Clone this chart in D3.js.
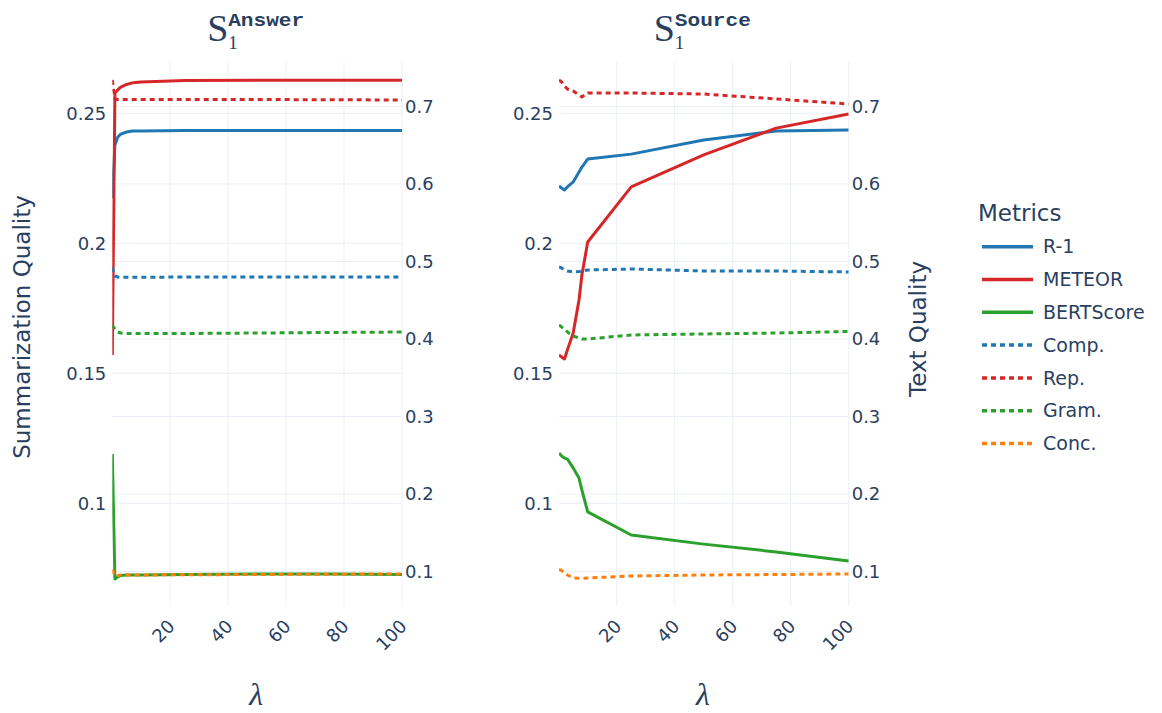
<!DOCTYPE html>
<html><head><meta charset="utf-8">
<script src="https://cdn.jsdelivr.net/npm/d3@7/dist/d3.min.js"></script>
<style>body{margin:0;background:#fff}svg{display:block}</style>
</head><body><svg id="c" width="1162" height="713"></svg>
<script>
// ---------------- data ----------------
const lambdas = [0.1, 1, 2, 3, 5, 7, 8, 10, 25, 50, 75, 100];
const panelKeys = ["Answer", "Source"];
const seriesNames = ["R-1", "METEOR", "BERTScore", "Comp.", "Rep.", "Gram.", "Conc."];
const seriesAxis = ["left", "left", "left", "right", "right", "right", "right"];
const seriesColors = ["#1f77b4", "#d62728", "#2ca02c", "#1f77b4", "#d62728", "#2ca02c", "#ff7f0e"];
const seriesDashed = [false, false, false, true, true, true, true];

// S1^Answer panel
const answerR1      = [0.2174, 0.2378, 0.2409, 0.2420, 0.2428, 0.2432, 0.2432, 0.2432, 0.2434, 0.2434, 0.2434, 0.2434];
const answerMETEOR  = [0.1570, 0.2578, 0.2590, 0.2601, 0.2611, 0.2617, 0.2618, 0.2620, 0.2626, 0.2627, 0.2627, 0.2627];
const answerBERT    = [0.1190, 0.0709, 0.0717, 0.0722, 0.0724, 0.0724, 0.0724, 0.0724, 0.0726, 0.0728, 0.0728, 0.0726];
const answerComp    = [0.4929, 0.4813, 0.4800, 0.4796, 0.4796, 0.4796, 0.4796, 0.4796, 0.4800, 0.4800, 0.4800, 0.4800];
const answerRep     = [0.7342, 0.7097, 0.7090, 0.7090, 0.7090, 0.7090, 0.7090, 0.7090, 0.7090, 0.7090, 0.7087, 0.7084];
const answerGram    = [0.4181, 0.4129, 0.4090, 0.4077, 0.4071, 0.4071, 0.4071, 0.4071, 0.4071, 0.4077, 0.4084, 0.4090];
const answerConc    = [0.1028, 0.0942, 0.0948, 0.0955, 0.0955, 0.0955, 0.0955, 0.0955, 0.0958, 0.0961, 0.0965, 0.0968];

// S1^Source panel
const sourceR1      = [0.2220, 0.2213, 0.2205, 0.2217, 0.2236, 0.2274, 0.2293, 0.2324, 0.2343, 0.2397, 0.2432, 0.2436];
const sourceMETEOR  = [0.1570, 0.1563, 0.1555, 0.1590, 0.1655, 0.1782, 0.1878, 0.2005, 0.2217, 0.2340, 0.2443, 0.2497];
const sourceBERT    = [0.1193, 0.1182, 0.1174, 0.1170, 0.1136, 0.1097, 0.1051, 0.0967, 0.0878, 0.0843, 0.0813, 0.0778];
const sourceComp    = [0.4929, 0.4916, 0.4890, 0.4877, 0.4865, 0.4871, 0.4877, 0.4890, 0.4903, 0.4877, 0.4877, 0.4865];
const sourceRep     = [0.7342, 0.7316, 0.7265, 0.7226, 0.7200, 0.7148, 0.7123, 0.7174, 0.7174, 0.7161, 0.7097, 0.7032];
const sourceGram    = [0.4181, 0.4155, 0.4129, 0.4090, 0.4039, 0.4013, 0.4000, 0.4000, 0.4052, 0.4065, 0.4077, 0.4097];
const sourceConc    = [0.1028, 0.1013, 0.0981, 0.0955, 0.0916, 0.0912, 0.0912, 0.0916, 0.0942, 0.0955, 0.0961, 0.0968];

const xTicks = [20, 40, 60, 80, 100];
const leftTicks = [0.1, 0.15, 0.2, 0.25];
const rightTicks = [0.1, 0.2, 0.3, 0.4, 0.5, 0.6, 0.7];
const leftAxisTitle = "Summarization Quality";
const rightAxisTitle = "Text Quality";
const xAxisTitle = "λ";
const legendTitle = "Metrics";

const panelSeries = [
  [answerR1, answerMETEOR, answerBERT, answerComp, answerRep, answerGram, answerConc],
  [sourceR1, sourceMETEOR, sourceBERT, sourceComp, sourceRep, sourceGram, sourceConc]
];

// ---------------- layout ----------------
const TEXT = "#2a3f5f", GRID = "#ebf0f8";
const FONT = "'DejaVu Sans', sans-serif";
const plotTop = 62, plotBottom = 606;
const panels = [{x0: 112.3, x1: 402}, {x0: 559, x1: 848.7}];

const svg = d3.select("#c");
svg.append("rect").attr("width", 1162).attr("height", 713).attr("fill", "#fff");

const yL = d3.scaleLinear().domain([0.0605, 0.26973]).range([plotBottom, plotTop]);
const yR = d3.scaleLinear().domain([0.05548, 0.7574]).range([plotBottom, plotTop]);
const fmt = v => String(+v.toFixed(3));

panels.forEach((p, pi) => {
  const x = d3.scaleLinear().domain([0.1, 100]).range([p.x0, p.x1]);
  const g = svg.append("g");

  // grid
  const grid = g.append("g").attr("stroke", GRID).attr("stroke-width", 1);
  xTicks.forEach(t => grid.append("line").attr("x1", x(t)).attr("x2", x(t)).attr("y1", plotTop).attr("y2", plotBottom));
  leftTicks.forEach(t => grid.append("line").attr("x1", p.x0).attr("x2", p.x1).attr("y1", yL(t)).attr("y2", yL(t)));
  rightTicks.forEach(t => grid.append("line").attr("x1", p.x0).attr("x2", p.x1).attr("y1", yR(t)).attr("y2", yR(t)));

  // axes via d3 axis generators, styled like plotly
  const axL = g.append("g").attr("transform", `translate(${p.x0},0)`)
    .call(d3.axisLeft(yL).tickValues(leftTicks).tickFormat(fmt).tickSize(0).tickPadding(6));
  const axR = g.append("g").attr("transform", `translate(${p.x1},0)`)
    .call(d3.axisRight(yR).tickValues(rightTicks).tickFormat(fmt).tickSize(0).tickPadding(3));
  const axX = g.append("g").attr("transform", `translate(0,${plotBottom})`)
    .call(d3.axisBottom(x).tickValues(xTicks).tickFormat(d3.format("d")).tickSize(0));
  [axL, axR, axX].forEach(a => {
    a.select(".domain").remove();
    a.selectAll("text").attr("fill", TEXT).attr("font-family", FONT).attr("font-size", 18);
  });
  axX.selectAll(".tick text")
    .attr("text-anchor", "end").attr("dy", "0.35em").attr("y", 0).attr("x", 0)
    .attr("transform", "translate(1,17) rotate(-45)");

  // clip
  const cid = "clip" + pi;
  svg.append("clipPath").attr("id", cid).append("rect")
    .attr("x", p.x0).attr("y", plotTop).attr("width", p.x1 - p.x0).attr("height", plotBottom - plotTop);
  const lines = g.append("g").attr("clip-path", `url(#${cid})`);
  seriesNames.forEach((n, si) => {
    const ys = seriesAxis[si] === "left" ? yL : yR;
    const line = d3.line().x((d, i) => x(lambdas[i])).y(d => ys(d));
    lines.append("path").datum(panelSeries[pi][si])
      .attr("d", line).attr("fill", "none")
      .attr("stroke", seriesColors[si]).attr("stroke-width", 3)
      .attr("stroke-linejoin", "round")
      .attr("stroke-dasharray", seriesDashed[si] ? "5,4" : null);
  });

  // title S_1^{key}
  const cx = (p.x0 + p.x1) / 2 - 1;
  const tg = svg.append("g").attr("fill", TEXT);
  tg.append("text").attr("x", cx - 49).attr("y", 41).attr("font-family", "'Liberation Serif', serif")
    .attr("font-size", 38).text("S");
  tg.append("text").attr("x", cx - 28).attr("y", 26).attr("font-family", "'Liberation Mono', monospace")
    .attr("font-weight", "bold").attr("font-size", 19)
    .attr("textLength", 76).attr("lengthAdjust", "spacingAndGlyphs").text(panelKeys[pi]);
  tg.append("text").attr("x", cx - 28).attr("y", 49).attr("font-family", "'Liberation Serif', serif")
    .attr("font-size", 19).text("1");

  // x axis title
  svg.append("text").attr("x", cx).attr("y", 705).attr("text-anchor", "middle")
    .attr("font-family", "'Liberation Serif', serif").attr("font-style", "italic")
    .attr("font-size", 32).attr("fill", TEXT).text(xAxisTitle);
});

// y axis titles
svg.append("text").attr("transform", "translate(30,327) rotate(-90)").attr("text-anchor", "middle")
  .attr("font-family", FONT).attr("font-size", 23).attr("fill", TEXT).text(leftAxisTitle);
svg.append("text").attr("transform", "translate(926,329) rotate(-90)").attr("text-anchor", "middle")
  .attr("font-family", FONT).attr("font-size", 23).attr("fill", TEXT).text(rightAxisTitle);

// legend
const lg = svg.append("g");
lg.append("text").attr("x", 978).attr("y", 221).attr("font-family", FONT).attr("font-size", 23)
  .attr("fill", TEXT).text(legendTitle);
seriesNames.forEach((n, i) => {
  const yy = 246.7 + i * 32.8;
  lg.append("line").attr("x1", 982).attr("x2", 1033).attr("y1", yy).attr("y2", yy)
    .attr("stroke", seriesColors[i]).attr("stroke-width", 3.5)
    .attr("stroke-dasharray", seriesDashed[i] ? "5,4" : null);
  lg.append("text").attr("x", 1043).attr("y", yy).attr("dy", "0.35em")
    .attr("font-family", FONT).attr("font-size", 19).attr("fill", TEXT).text(n);
});
</script></body></html>
